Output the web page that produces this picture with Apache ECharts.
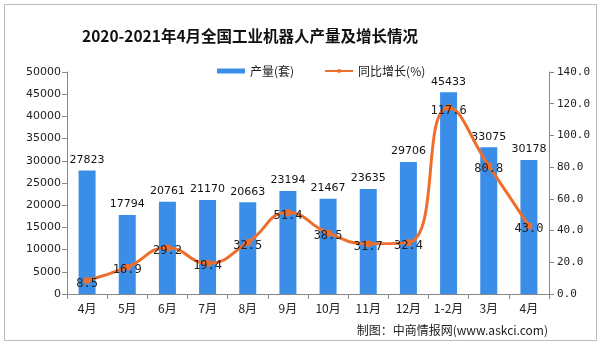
<!DOCTYPE html>
<html><head><meta charset="utf-8">
<script src="https://cdn.jsdelivr.net/npm/echarts@6/dist/echarts.min.js"></script>
<style>html,body{margin:0;padding:0;background:#fff}#c{width:600px;height:345px}</style>
</head><body><div id="c"></div>
<script>
var categories = ['4月','5月','6月','7月','8月','9月','10月','11月','12月','1-2月','3月','4月'];
var production = [27823,17794,20761,21170,20663,23194,21467,23635,29706,45433,33075,30178];
var growth = [8.5,16.9,29.2,19.4,32.5,51.4,38.5,31.7,32.4,117.6,80.8,43.0];
var leftTicks = [0,50000,5000];
var rightTicks = [0,140,20];

var chart = echarts.init(document.getElementById('c'));
var mono = 'DejaVu Sans Mono';
chart.setOption({
  animation:false,
  backgroundColor:'#fff',
  title:{text:'2020-2021年4月全国工业机器人产量及增长情况',left:77,top:23,
    textStyle:{fontSize:15.5,fontWeight:'bold',color:'#111',fontFamily:'Noto Sans CJK SC'}},
  legend:{top:60,left:212,itemGap:30,itemWidth:28,itemHeight:5,
    textStyle:{fontSize:12,color:'#222',fontFamily:'Noto Sans CJK SC'},
    data:[{name:'产量(套)',icon:'rect'},{name:'同比增长(%)'}]},
  grid:{left:67,right:51,top:72,bottom:51},
  xAxis:{type:'category',data:categories,
    axisLine:{lineStyle:{color:'#888'}},axisTick:{show:true,lineStyle:{color:'#888'}},
    axisLabel:{color:'#222',fontSize:12,margin:8,fontFamily:'Noto Sans CJK SC'}},
  yAxis:[
    {type:'value',min:leftTicks[0],max:leftTicks[1],interval:leftTicks[2],
     axisLine:{show:true,lineStyle:{color:'#888'}},axisTick:{show:true,lineStyle:{color:'#888'}},
     splitLine:{show:false},axisLabel:{color:'#222',fontSize:11,fontFamily:'DejaVu Sans',margin:6,
       formatter:function(v){return String(v);}}},
    {type:'value',min:rightTicks[0],max:rightTicks[1],interval:rightTicks[2],
     axisLine:{show:true,lineStyle:{color:'#888'}},axisTick:{show:true,lineStyle:{color:'#888'}},
     splitLine:{show:false},axisLabel:{color:'#222',fontSize:11,fontFamily:mono,margin:8,
       formatter:function(v){return v.toFixed(1);}}}
  ],
  series:[
    {name:'产量(套)',type:'bar',data:production,barWidth:17,yAxisIndex:0,
     itemStyle:{color:'#3b8ee8'},
     label:{show:true,position:'top',color:'#111',fontSize:11,fontFamily:'DejaVu Sans',distance:5}},
    {name:'同比增长(%)',type:'line',data:growth,yAxisIndex:1,smooth:true,
     symbol:'circle',symbolSize:7,
     lineStyle:{color:'#ee6f2d',width:3},itemStyle:{color:'#ee6f2d'},
     label:{show:true,position:'inside',offset:[0,3],color:'#222',fontSize:12,fontFamily:mono,
       formatter:function(p){return p.value.toFixed(1);}}}
  ],
  graphic:[
    {type:'rect',shape:{x:4.5,y:4.5,width:592,height:336},style:{fill:'none',stroke:'#bbb',lineWidth:1}},
    {type:'text',right:52,bottom:9,style:{text:'制图：中商情报网(www.askci.com)',fontSize:12,fill:'#222',fontFamily:'Noto Sans CJK SC'}}
  ]
});
</script></body></html>
